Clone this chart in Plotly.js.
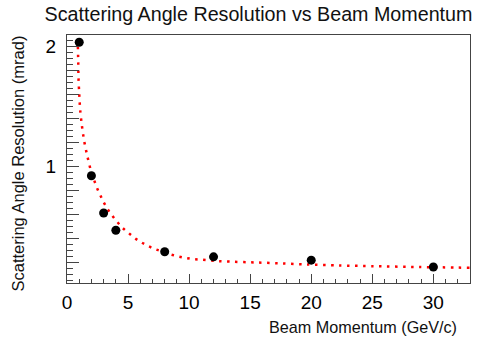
<!DOCTYPE html>
<html>
<head>
<meta charset="utf-8">
<script src="https://cdn.plot.ly/plotly-3.0.1.min.js"></script>
<style>html,body{margin:0;padding:0;background:#fff;}#chart{width:477px;height:338px;}</style>
</head>
<body>
<div id="chart"></div>
<script>
// Measured data points
var momentum = [1, 2, 3, 4, 8, 12, 20, 30];
var resolution = [2.035, 0.923, 0.613, 0.469, 0.29, 0.248, 0.22, 0.163];

// Fit curve
var fitX = [0.89, 0.92, 0.94, 1.0, 1.08, 1.22, 1.41, 1.68, 2.01, 2.23, 2.45, 2.72, 2.99, 3.32, 3.70, 4.11, 4.55, 5.04, 5.57, 6.11, 6.68, 7.29, 7.99, 8.52, 9.17, 9.80, 10.45, 11.11, 12.42, 13.07, 15.67, 17.66, 19.63, 22.3, 25.1, 28.9, 33.0];
var fitY = [2.0, 1.87, 1.74, 1.61, 1.47, 1.34, 1.21, 1.08, 0.945, 0.884, 0.823, 0.763, 0.705, 0.646, 0.591, 0.539, 0.489, 0.447, 0.402, 0.367, 0.336, 0.309, 0.286, 0.267, 0.25, 0.237, 0.228, 0.223, 0.212, 0.209, 0.20, 0.193, 0.184, 0.176, 0.17, 0.163, 0.157];

// Tick labels
var xTickVals = [0, 5, 10, 15, 20, 25, 30];
var xTickText = ['0', '5', '10', '15', '20', '25', '30'];
var yTickVals = [0.2, 0.4, 0.6, 0.8, 1.0, 1.2, 1.4, 1.6, 1.8, 2.0];
var yTickText = ['', '', '', '', '1', '', '', '', '', '2'];

var titleText = 'Scattering Angle Resolution vs Beam Momentum';
var xTitleText = 'Beam Momentum (GeV/c)';
var yTitleText = 'Scattering Angle Resolution (mrad)';

var FONT = 'Liberation Sans, Arial, Helvetica, sans-serif';

var traces = [
  {
    x: fitX, y: fitY, type: 'scatter', mode: 'lines',
    line: {color: '#ff0000', width: 2.5, dash: '2.5px,5.5px', shape: 'spline', smoothing: 0.8},
    hoverinfo: 'skip', showlegend: false
  },
  {
    x: momentum, y: resolution, type: 'scatter', mode: 'markers',
    marker: {color: '#000000', size: 9, symbol: 'circle'},
    showlegend: false
  }
];

var layout = {
  width: 477, height: 338,
  margin: {l: 67, r: 7, t: 35, b: 55},
  paper_bgcolor: '#ffffff', plot_bgcolor: '#ffffff',
  font: {family: FONT, color: '#000'},
  showlegend: false,
  title: {
    text: titleText,
    font: {family: FONT, size: 19.7, color: '#111'},
    xref: 'container', x: 258.5 / 477, xanchor: 'center',
    yref: 'container', y: 1 - 14 / 338, yanchor: 'middle'
  },
  xaxis: {
    range: [0, 33],
    showgrid: false, zeroline: false,
    showline: true, mirror: true, linecolor: '#444', linewidth: 1,
    tickmode: 'array', tickvals: xTickVals, ticktext: xTickText,
    ticks: 'inside', ticklen: 9, tickcolor: '#444', tickwidth: 1,
    minor: {dtick: 1, ticks: 'inside', ticklen: 4, tickcolor: '#444', tickwidth: 1, showgrid: false},
    tickfont: {family: FONT, size: 19, color: '#000'},
    ticklabelstandoff: 2
  },
  yaxis: {
    range: [0.03, 2.095],
    showgrid: false, zeroline: false,
    showline: true, mirror: true, linecolor: '#444', linewidth: 1,
    tickmode: 'array', tickvals: yTickVals, ticktext: yTickText,
    ticks: 'inside', ticklen: 12, tickcolor: '#444', tickwidth: 1,
    minor: {dtick: 0.05, tick0: 0, ticks: 'inside', ticklen: 6, tickcolor: '#444', tickwidth: 1, showgrid: false},
    tickfont: {family: FONT, size: 19, color: '#000'},
    ticklabelstandoff: 6
  },
  annotations: [
    {
      text: xTitleText, xref: 'paper', yref: 'paper',
      x: (459 - 67) / 403, xanchor: 'right',
      y: -(327 - 283) / 248, yanchor: 'middle',
      showarrow: false, font: {family: FONT, size: 16.2, color: '#111'}
    },
    {
      text: yTitleText, xref: 'paper', yref: 'paper',
      x: -(67 - 18) / 403, xanchor: 'center',
      y: (283 - 163.5) / 248, yanchor: 'middle',
      textangle: -90,
      showarrow: false, font: {family: FONT, size: 16.5, color: '#111'}
    }
  ]
};

Plotly.newPlot('chart', traces, layout, {staticPlot: true, displayModeBar: false});
</script>
</body>
</html>
